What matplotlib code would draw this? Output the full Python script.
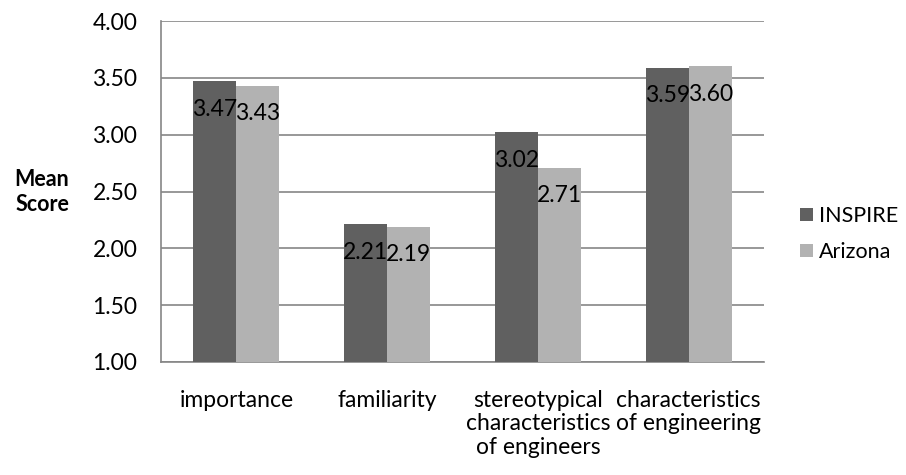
import matplotlib
matplotlib.use("Agg")
import matplotlib.pyplot as plt
import numpy as np

categories = ["importance", "familiarity",
              "stereotypical\ncharacteristics\nof engineers",
              "characteristics\nof engineering"]
inspire = [3.47, 2.21, 3.02, 3.59]
arizona = [3.43, 2.19, 2.71, 3.60]
series_names = ["INSPIRE", "Arizona"]
yticks = [1.00, 1.50, 2.00, 2.50, 3.00, 3.50, 4.00]

plt.rcParams['font.family'] = ['Lato', 'DejaVu Sans']
fs = 16.5

fig = plt.figure(figsize=(9.06, 4.75), dpi=100)
ax = fig.add_axes([161 / 906, 1 - 362 / 475, 603 / 906, 341 / 475])

x = np.arange(len(categories))
w = 0.285
b1 = ax.bar(x - w / 2, np.array(inspire) - 1, w, bottom=1, color="#606060", zorder=3)
b2 = ax.bar(x + w / 2, np.array(arizona) - 1, w, bottom=1, color="#b2b2b2", zorder=3)

# value labels just under the top of each bar
for bars, vals in ((b1, inspire), (b2, arizona)):
    for r, v in zip(bars, vals):
        ax.annotate("%.2f" % v, (r.get_x() + r.get_width() / 2, v),
                    xytext=(0, -28), textcoords="offset pixels",
                    ha="center", va="center", fontsize=fs, color="black", zorder=4)

ax.set_xlim(-0.5, len(categories) - 0.5)
ax.set_ylim(1, 4)
ax.set_yticks(yticks)
ax.set_yticklabels(["%.2f" % t for t in yticks], fontsize=fs)
ax.set_xticks(x)
ax.set_xticklabels(categories, fontsize=fs, linespacing=1.15)
ax.tick_params(axis="both", length=0)
ax.tick_params(axis="y", pad=17)
ax.tick_params(axis="x", pad=20)
ax.grid(axis="y", color="#868686", linewidth=1.2, zorder=0)
for s in ["top", "right"]:
    ax.spines[s].set_visible(False)
for s in ["left", "bottom"]:
    ax.spines[s].set_color("#868686")
    ax.spines[s].set_linewidth(1.2)

fig.text(42 / 906, 1 - 192 / 475, "Mean\nScore", ha="center", va="center",
         fontsize=15.5, fontweight="bold", linespacing=1.2)

leg = ax.legend([b1, b2], series_names, loc="center left",
                bbox_to_anchor=(800 / 906, 1 - 234 / 475), bbox_transform=fig.transFigure,
                frameon=False, fontsize=fs - 1, handlelength=0.6, handleheight=0.6,
                handletextpad=0.3, labelspacing=0.75, borderaxespad=0, borderpad=0)

fig.savefig("out.png", dpi=100)
